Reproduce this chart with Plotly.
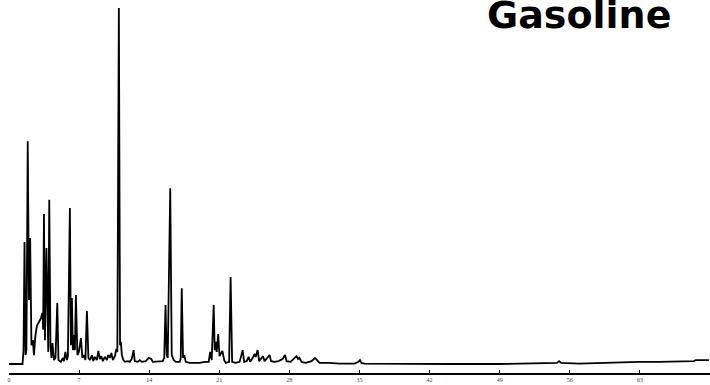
import plotly.graph_objects as go

# Gas chromatogram of a gasoline sample: retention time (min) vs relative abundance (%)
time_min = [
    0.00, 1.35, 1.45, 1.55, 1.65, 1.74, 1.87, 1.99, 2.11, 2.24, 2.39, 2.49, 2.64, 2.79,
    2.99, 3.19, 3.34, 3.41, 3.49, 3.59, 3.74, 3.84, 3.92, 4.02, 4.14, 4.24, 4.34, 4.49,
    4.64, 4.82, 4.94, 5.18, 5.38, 5.48, 5.63, 5.78, 5.88, 6.08, 6.18, 6.28, 6.38, 6.48,
    6.58, 6.68, 6.83, 6.98, 7.18, 7.33, 7.48, 7.63, 7.78, 7.93, 8.08, 8.28, 8.42, 8.57,
    8.77, 8.92, 9.07, 9.22, 9.37, 9.57, 9.77, 9.92, 10.07, 10.22, 10.37, 10.57, 10.72,
    10.82, 10.97, 11.09, 11.17, 11.27, 11.42, 11.57, 11.87, 12.06, 12.26, 12.44, 12.56,
    12.86, 13.06, 13.26, 13.66, 13.96, 14.21, 14.36, 14.86, 15.35, 15.50, 15.63, 15.75,
    15.85, 16.10, 16.25, 16.45, 16.65, 17.05, 17.15, 17.25, 17.38, 17.50, 17.65, 18.05,
    19.04, 19.54, 19.94, 20.09, 20.24, 20.44, 20.54, 20.64, 20.74, 20.89, 21.02, 21.14,
    21.31, 21.49, 21.64, 21.98, 22.13, 22.28, 22.63, 23.03, 23.33, 23.48, 23.73, 23.93,
    24.08, 24.33, 24.53, 24.63, 24.83, 24.98, 25.23, 25.37, 25.52, 25.82, 26.02, 26.17,
    26.52, 26.92, 27.32, 27.57, 27.72, 28.12, 28.51, 28.71, 28.86, 29.01, 29.21, 29.61,
    30.21, 30.56, 30.76, 31.01, 32.00, 33.00, 34.50, 34.90, 35.05, 35.19, 35.49, 38.98,
    43.97, 48.95, 53.94, 54.74, 54.94, 55.13, 56.93, 58.92, 60.92, 61.91, 62.91, 64.91,
    66.90, 68.40, 68.59, 69.89,
]
abundance = [
    0.0, 0.0, 3.9, 34.3, 2.5, 3.9, 62.6, 18.0, 35.4, 5.3, 6.7, 2.5, 8.1, 10.7,
    11.8, 12.9, 14.3, 9.6, 42.1, 6.7, 32.6, 5.3, 3.4, 46.1, 5.3, 1.7, 5.9, 1.1,
    1.7, 17.1, 1.1, 0.6, 1.7, 0.8, 3.4, 1.1, 2.2, 43.8, 5.3, 18.5, 3.9, 8.1,
    3.9, 19.4, 2.5, 3.4, 7.3, 1.7, 2.5, 1.1, 14.9, 1.7, 1.1, 2.5, 0.8, 2.0,
    1.1, 3.7, 1.4, 2.2, 0.8, 2.0, 1.1, 2.5, 1.7, 3.1, 1.1, 2.2, 4.2,
    3.4, 100.0, 5.3, 6.2, 2.5, 1.1, 0.6, 0.8, 0.6, 1.4, 3.9, 0.8,
    0.6, 1.1, 0.6, 0.8, 1.7, 1.4, 0.6, 0.6, 0.8, 1.7, 16.6, 2.5,
    1.7, 49.4, 2.5, 1.1, 0.6, 0.6, 1.7, 21.3, 1.7, 2.5, 0.6, 0.3,
    0.3, 0.6, 0.6, 3.4, 1.1, 16.6, 3.9, 6.2, 3.4, 8.4, 2.2, 2.8,
    3.7, 1.1, 0.3, 0.6, 24.4, 0.6, 0.3, 0.6, 3.9, 0.6, 0.8, 2.0,
    0.6, 1.7, 2.8, 2.0, 3.9, 0.8, 1.7, 2.2, 0.8, 2.0, 2.5, 0.8,
    0.6, 0.8, 1.4, 2.5, 0.8, 0.6, 1.7, 2.2, 1.4, 1.7, 0.6, 0.3,
    0.8, 1.7, 1.1, 0.3, 0.3, 0.1, 0.1, 0.6, 1.1, 0.3, 0.1, 0.0,
    0.0, 0.0, 0.1, 0.3, 0.8, 0.3, 0.1, 0.3, 0.3, 0.4, 0.6, 0.6,
    0.7, 0.8, 1.1, 1.1,
]
tick_values = [0, 7, 14, 21, 28, 35, 42, 49, 56, 63]
tick_labels = [str(v) for v in tick_values]
title_text = "Gasoline"

fig = go.Figure(
    go.Scatter(
        x=time_min,
        y=abundance,
        mode="lines",
        line=dict(color="black", width=1.8),
        hoverinfo="skip",
    )
)

fig.update_layout(
    width=710,
    height=385,
    margin=dict(l=9, r=0, t=0, b=12),
    paper_bgcolor="white",
    plot_bgcolor="white",
    showlegend=False,
    xaxis=dict(
        range=[0, 70],
        showgrid=False,
        zeroline=False,
        showline=True,
        linecolor="black",
        linewidth=1.5,
        ticks="inside",
        ticklen=3,
        tickwidth=1,
        tickcolor="black",
        tickvals=tick_values,
        ticktext=tick_labels,
        tickfont=dict(family="Liberation Serif", size=6, color="#444444"),
    ),
    yaxis=dict(
        range=[-2.53, 102.25],
        visible=False,
    ),
    annotations=[
        dict(
            text="<b>" + title_text + "</b>",
            xref="paper",
            yref="paper",
            x=0.813,
            y=1.0,
            xanchor="center",
            yanchor="top",
            yshift=9,
            showarrow=False,
            font=dict(family="Comic Sans MS, DejaVu Sans", size=38, color="black"),
        )
    ],
)

fig.write_html("out.html")
